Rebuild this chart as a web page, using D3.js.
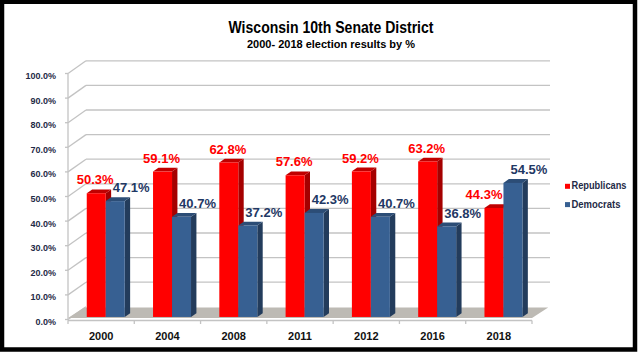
<!DOCTYPE html>
<html><head><meta charset="utf-8">
<script src="https://cdn.jsdelivr.net/npm/d3@7"></script>
<style>html,body{margin:0;padding:0;background:#fff}svg{display:block}</style>
</head><body>
<script>
const categories = ["2000","2004","2008","2011","2012","2016","2018"];
const republicans = [50.3,59.1,62.8,57.6,59.2,63.2,44.3];
const democrats = [47.1,40.7,37.2,42.3,40.7,36.8,54.5];
const seriesNames = ["Republicans","Democrats"];
const yTicks = [0,10,20,30,40,50,60,70,80,90,100];
const titleText = "Wisconsin 10th Senate District";
const subtitleText = "2000- 2018 election results by %";

const W = 640, H = 354;
const X0 = 68, X1 = 532, Y0 = 319.5, Y100 = 73.5, DX = 18, DY = -12.7;
const zb0 = 0.2, zb1 = 0.5;
const FONT = "'Liberation Sans', Arial, sans-serif";

const svg = d3.select("body").append("svg").attr("width", W).attr("height", H);
svg.append("rect").attr("width", W).attr("height", H).attr("fill", "#fff");

const x = d3.scaleBand().domain(categories).range([X0, X1]);
const x1 = d3.scaleBand().domain(seriesNames).range([0, x.bandwidth()]).paddingOuter(0.745);
const y = d3.scaleLinear().domain([0, 100]).range([Y0, Y100]);
const fmt = d => d3.format(".1f")(d) + "%";

const colors = {
  Republicans: {front: "#FF0000", side: "#A50000", top: "#C00000", label: "#FF0000"},
  Democrats: {front: "#376092", side: "#233C5C", top: "#2C4D76", label: "#1F3864"}
};

// title
svg.append("text").attr("x", 331).attr("y", 32.7).attr("text-anchor", "middle")
  .attr("font-family", FONT).attr("font-weight", "bold").attr("font-size", 17)
  .attr("textLength", 205).attr("lengthAdjust", "spacingAndGlyphs")
  .attr("fill", "#000").text(titleText);
svg.append("text").attr("x", 331).attr("y", 48.2).attr("text-anchor", "middle")
  .attr("font-family", FONT).attr("font-weight", "bold").attr("font-size", 11.5)
  .attr("textLength", 168).attr("lengthAdjust", "spacingAndGlyphs")
  .attr("fill", "#000").text(subtitleText);

const grid = "#C3C3C3";
// back wall gridlines
svg.append("g").selectAll("line.g").data(yTicks.filter(t => t > 0)).join("line")
  .attr("x1", X0 + DX).attr("x2", X1 + DX)
  .attr("y1", d => y(d) + DY).attr("y2", d => y(d) + DY)
  .attr("stroke", grid).attr("stroke-width", 1.3);
// left wall diagonals
svg.append("g").selectAll("line").data(yTicks).join("line")
  .attr("x1", X0).attr("x2", X0 + DX)
  .attr("y1", d => y(d)).attr("y2", d => y(d) + DY)
  .attr("stroke", grid).attr("stroke-width", 1.3);
// left axis & ticks
svg.append("line").attr("x1", X0).attr("x2", X0).attr("y1", y(100)).attr("y2", Y0 + 1)
  .attr("stroke", grid).attr("stroke-width", 1.3);
svg.append("g").selectAll("line").data(yTicks).join("line")
  .attr("x1", X0 - 3).attr("x2", X0).attr("y1", d => y(d)).attr("y2", d => y(d))
  .attr("stroke", grid).attr("stroke-width", 1.3);
// y labels
svg.append("g").selectAll("text").data(yTicks).join("text")
  .attr("x", 56).attr("y", d => y(d) + 2.3).attr("dy", "0.35em").attr("text-anchor", "end")
  .attr("font-family", FONT).attr("font-weight", "bold").attr("font-size", 9)
  .attr("fill", "#1F2B47").text(d => d.toFixed(1) + "%");

// floor
const fy = Y0 - 1.5, by = Y0 - 12;
svg.append("polygon")
  .attr("points", [[X0, fy], [X1, fy], [X1 + DX * 0.9, by], [X0 + DX * 0.9, by]].map(p => p.join(",")).join(" "))
  .attr("fill", "#BDBAB4");

// x axis
svg.append("line").attr("x1", X0).attr("x2", X1).attr("y1", Y0 + 1).attr("y2", Y0 + 1)
  .attr("stroke", grid).attr("stroke-width", 1.3);
const bounds = categories.map(c => x(c)).concat([X1]);
svg.append("g").selectAll("line").data(bounds).join("line")
  .attr("x1", d => d).attr("x2", d => d).attr("y1", Y0 + 1).attr("y2", Y0 + 4.5)
  .attr("stroke", grid).attr("stroke-width", 1.3);
svg.append("g").selectAll("text").data(categories).join("text")
  .attr("x", d => x(d) + x.bandwidth() / 2).attr("y", 340).attr("text-anchor", "middle")
  .attr("font-family", FONT).attr("font-weight", "bold").attr("font-size", 11)
  .attr("fill", "#111").text(d => d);

// bars
const data = categories.map((c, i) => ({cat: c, vals: [
  {s: "Republicans", v: republicans[i]}, {s: "Democrats", v: democrats[i]}]}));
const barsG = svg.append("g");
const geom = {};
data.forEach(d => {
  d.vals.forEach(b => {
    const xl = x(d.cat) + x1(b.s) + 1, xr = xl + x1.bandwidth();
    const af = zb0 * DX, ab = zb1 * DX;
    const ytf = y(b.v) + zb0 * DY, ytb = y(b.v) + zb1 * DY;
    const ybf = Y0 + zb0 * DY, ybb = Y0 + zb1 * DY;
    const c = colors[b.s];
    const g = barsG.append("g");
    g.append("polygon").attr("points", [[xr + af, ytf], [xr + ab, ytb], [xr + ab, ybb], [xr + af, ybf]].map(p => p.join(",")).join(" ")).attr("fill", c.side);
    g.append("polygon").attr("points", [[xl + af, ytf], [xr + af, ytf], [xr + ab, ytb], [xl + ab, ytb]].map(p => p.join(",")).join(" ")).attr("fill", c.top);
    g.append("rect").attr("x", xl + af).attr("y", ytf).attr("width", xr - xl).attr("height", ybf - ytf).attr("fill", c.front);
    geom[d.cat + b.s] = {left: xl + af, right: xr + af, topBack: ytb};
  });
});

// labels
const labG = svg.append("g");
data.forEach((d, i) => {
  const r = geom[d.cat + "Republicans"], b = geom[d.cat + "Democrats"];
  const rt = labG.append("text").attr("font-family", FONT).attr("font-weight", "bold").attr("font-size", 13)
    .attr("fill", colors.Republicans.label).attr("y", r.topBack - 5).text(fmt(republicans[i]));
  const rw = rt.node().getComputedTextLength();
  let rc = (r.left + r.right) / 2 - 1;
  if (democrats[i] > republicans[i] && rc + rw / 2 > b.left - 1) rc = b.left - 1 - rw / 2;
  rt.attr("x", rc).attr("text-anchor", "middle");
  labG.append("text").attr("font-family", FONT).attr("font-weight", "bold").attr("font-size", 13)
    .attr("fill", colors.Democrats.label).attr("x", (b.left + b.right) / 2 + 16).attr("y", b.topBack - 5)
    .attr("text-anchor", "middle").text(fmt(democrats[i]));
});

// legend
const leg = svg.append("g");
seriesNames.forEach((s, i) => {
  leg.append("rect").attr("x", 565).attr("y", 183.8 + i * 18.3).attr("width", 5).attr("height", 5).attr("fill", colors[s].front);
  leg.append("text").attr("x", 571.5).attr("y", 189.3 + i * 18.3)
    .attr("font-family", FONT).attr("font-weight", "bold").attr("font-size", 10)
    .attr("textLength", i === 0 ? 55 : 49).attr("lengthAdjust", "spacingAndGlyphs")
    .attr("fill", "#1F2B47").text(s);
});

// frame
svg.append("rect").attr("x", 2).attr("y", 1.75).attr("width", 633).attr("height", 347.75)
  .attr("fill", "none").attr("stroke", "#000").attr("stroke-width", 4.5);
</script>
</body></html>
